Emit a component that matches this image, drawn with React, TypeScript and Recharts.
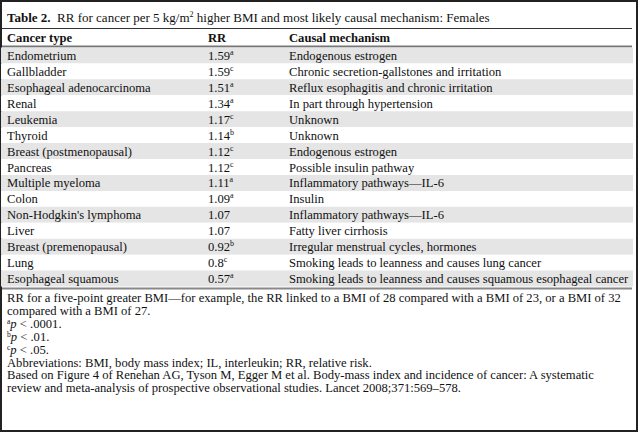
import React from 'react';
import { ComposedChart, Bar, Cell, XAxis, YAxis, LabelList, Customized } from 'recharts';

const cancerTypes = [
  'Endometrium',
  'Gallbladder',
  'Esophageal adenocarcinoma',
  'Renal',
  'Leukemia',
  'Thyroid',
  'Breast (postmenopausal)',
  'Pancreas',
  'Multiple myeloma',
  'Colon',
  "Non-Hodgkin's lymphoma",
  'Liver',
  'Breast (premenopausal)',
  'Lung',
  'Esophageal squamous',
];

const rrValues = ['1.59', '1.59', '1.51', '1.34', '1.17', '1.14', '1.12', '1.12', '1.11', '1.09', '1.07', '1.07', '0.92', '0.8', '0.57'];

const rrSignificance = ['a', 'c', 'a', 'a', 'c', 'b', 'c', 'c', 'a', 'a', '', '', 'b', 'c', 'a'];

const mechanisms = [
  'Endogenous estrogen',
  'Chronic secretion-gallstones and irritation',
  'Reflux esophagitis and chronic irritation',
  'In part through hypertension',
  'Unknown',
  'Unknown',
  'Endogenous estrogen',
  'Possible insulin pathway',
  'Inflammatory pathways\u2014IL-6',
  'Insulin',
  'Inflammatory pathways\u2014IL-6',
  'Fatty liver cirrhosis',
  'Irregular menstrual cycles, hormones',
  'Smoking leads to leanness and causes lung cancer',
  'Smoking leads to leanness and causes squamous esophageal cancer',
];

const headers = ['Cancer type', 'RR', 'Causal mechanism'];

const footnotes = [
  { sup: '', text: 'RR for a five-point greater BMI\u2014for example, the RR linked to a BMI of 28 compared with a BMI of 23, or a BMI of 32' },
  { sup: '', text: 'compared with a BMI of 27.' },
  { sup: 'a', p: true, text: ' < .0001.' },
  { sup: 'b', p: true, text: ' < .01.' },
  { sup: 'c', p: true, text: ' < .05.' },
  { sup: '', text: 'Abbreviations: BMI, body mass index; IL, interleukin; RR, relative risk.' },
  { sup: '', text: 'Based on Figure 4 of Renehan AG, Tyson M, Egger M et al. Body-mass index and incidence of cancer: A systematic' },
  { sup: '', text: 'review and meta-analysis of prospective observational studies. Lancet 2008;371:569\u2013578.' },
];

const rows = cancerTypes.map((c, i) => ({ cancer: c, rr: Number(rrValues[i]), band: 1 }));

const FONT = '"Liberation Serif", "Times New Roman", serif';
const TEXT = '#111';
const FS = 12.6;
const COL_X = [7, 208, 289];

// draws the three text columns of one table row on top of its band
const RowLabel = (props: any) => {
  const { x, y, height, value } = props;
  const i = cancerTypes.indexOf(value);
  if (i < 0) return null;
  const base = y + height / 2 + 4.5;
  return (
    <g fontFamily={FONT} fontSize={FS} fill={TEXT}>
      <text x={x + COL_X[0] - 1} y={base}>{cancerTypes[i]}</text>
      <text x={x + COL_X[1] - 1} y={base}>
        {rrValues[i]}
        {rrSignificance[i] && <tspan dy={-5} fontSize={8}>{rrSignificance[i]}</tspan>}
      </text>
      <text x={x + COL_X[2] - 1} y={base}>{mechanisms[i]}</text>
    </g>
  );
};

const StaticParts = () => (
  <g fontFamily={FONT} fill={TEXT}>
    <rect x={1} y={1} width={636} height={430} fill="none" stroke="#222" strokeWidth={2} />
    <text x={7} y={21.5} fontSize={13}>
      <tspan fontWeight="bold">Table 2.</tspan>
      <tspan>{'\u00a0 RR for cancer per 5 kg/m'}</tspan>
      <tspan dy={-5} fontSize={8}>2</tspan>
      <tspan dy={5}> higher BMI and most likely causal mechanism: Females</tspan>
    </text>
    <line x1={2} x2={632} y1={28.5} y2={28.5} stroke="#333" strokeWidth={1.2} />
    {headers.map((h, i) => (
      <text key={h} x={COL_X[i]} y={41.5} fontSize={FS} fontWeight="bold">{h}</text>
    ))}
    <line x1={2} x2={632} y1={46.5} y2={46.5} stroke="#777" strokeWidth={2} />
    <line x1={2} x2={632} y1={288.5} y2={288.5} stroke="#888" strokeWidth={2} />
    {footnotes.map((f, i) => (
      <text key={i} x={7} y={302 + i * 12.9} fontSize={FS}>
        {f.sup && <tspan dy={-3.5} fontSize={7.5}>{f.sup}</tspan>}
        {f.p && <tspan dy={f.sup ? 3.5 : 0} fontStyle="italic">p</tspan>}
        <tspan>{f.text}</tspan>
      </text>
    ))}
  </g>
);

export default function App() {
  return (
    <div style={{ position: 'fixed', left: 0, top: 0, width: 640, height: 433, background: '#fff' }}>
      <ComposedChart
        layout="vertical"
        width={640}
        height={433}
        data={rows}
        margin={{ top: 47.5, right: 7, bottom: 146.5, left: 1 }}
        barCategoryGap={0}
      >
        <XAxis type="number" domain={[0, 1]} hide />
        <YAxis type="category" dataKey="cancer" hide />
        <Bar dataKey="band" isAnimationActive={false}>
          {rows.map((r, i) => (
            <Cell key={r.cancer} fill={i % 2 === 0 ? '#e5e5e5' : '#ffffff'} />
          ))}
          <LabelList dataKey="cancer" content={<RowLabel />} />
        </Bar>
        <Customized component={<StaticParts />} />
      </ComposedChart>
    </div>
  );
}
